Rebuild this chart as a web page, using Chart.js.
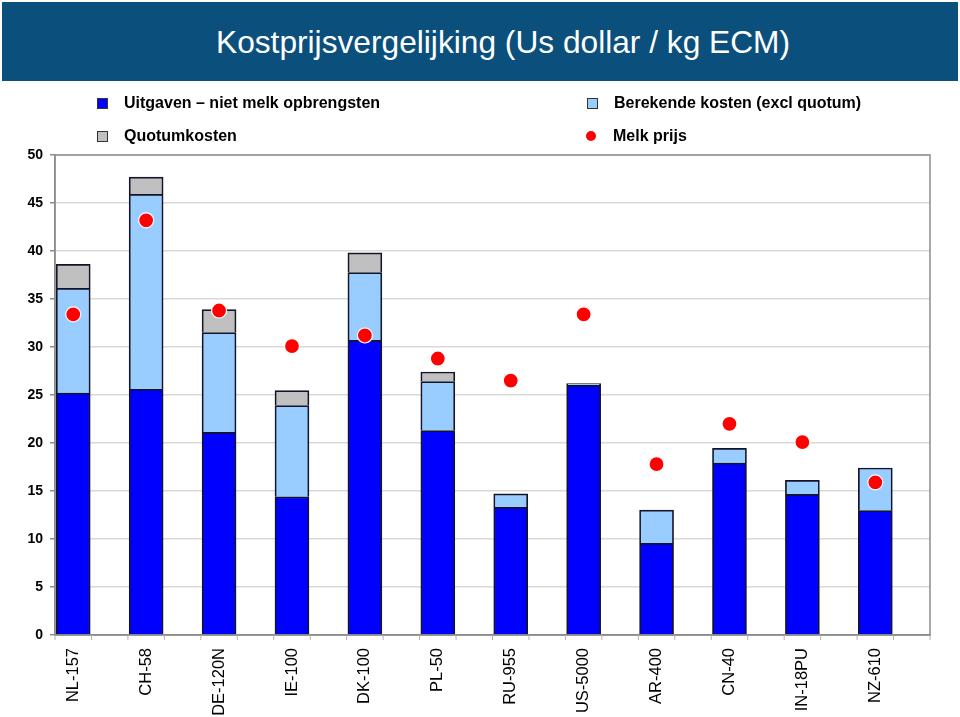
<!DOCTYPE html>
<html>
<head>
<meta charset="utf-8">
<script src="https://cdn.jsdelivr.net/npm/chart.js@4/dist/chart.umd.min.js"></script>
<style>
  body { margin: 0; background: #fff; font-family: "Liberation Sans", Arial, sans-serif; }
  #wrap { position: relative; width: 960px; height: 717px; overflow: hidden; }
  #banner { position: absolute; left: 2px; top: 2px; width: 956px; height: 79px; background: #0b4f7c; }
  #title { position: absolute; left: 216px; top: 3px; height: 79px; line-height: 79px; color: #fff; font-size: 31.7px; white-space: nowrap; }
  #chart { position: absolute; left: 0; top: 0; }
  .leg { position: absolute; font-size: 16px; font-weight: bold; color: #000; white-space: nowrap; line-height: 20px; }
  .sw { position: absolute; width: 9px; height: 9px; border: 1px solid #333; }
  .dot { position: absolute; width: 10px; height: 10px; border-radius: 50%; }
</style>
</head>
<body>
<div id="wrap">
  <div id="banner"></div>
  <div id="title">Kostprijsvergelijking (Us dollar / kg ECM)</div>
  <canvas id="chart" width="960" height="717"></canvas>
  <div id="legend"></div>
</div>
<script>
// categories (farms)
const categories = ['NL-157', 'CH-58', 'DE-120N', 'IE-100', 'DK-100', 'PL-50',
                    'RU-955', 'US-5000', 'AR-400', 'CN-40', 'IN-18PU', 'NZ-610'];

// stacked segments, US dollar / kg ECM
const uitgaven   = [25.2, 25.6, 21.1, 14.4, 30.7, 21.3, 13.3, 26.0, 9.55, 17.9, 14.65, 12.95];
const berekende  = [10.9, 20.3, 10.4, 9.5, 7.05, 5.1, 1.4, 0.2, 3.45, 1.55, 1.45, 4.45];
const quotum     = [2.5, 1.8, 2.4, 1.55, 2.05, 1.0, null, null, null, null, null, null];
const melkprijs  = [33.4, 43.2, 33.8, 30.1, 31.2, 28.8, 26.5, 33.4, 17.8, 22.0, 20.1, 15.9];

const seriesNames = ['Uitgaven \u2013 niet melk opbrengsten', 'Berekende kosten (excl quotum)',
                     'Quotumkosten', 'Melk prijs'];
const yTicks = [0, 5, 10, 15, 20, 25, 30, 35, 40, 45, 50];

const FONT = '"Liberation Sans", Arial, sans-serif';

function pts(arr) {
    return arr.map((v, i) => ({ x: i, y: v }));
}

// legend (two columns, HTML)
const legendEl = document.getElementById('legend');
const legendItems = [
    { name: seriesNames[0], color: '#0000ff', kind: 'box', x: 97, y: 93 },
    { name: seriesNames[1], color: '#99ccff', kind: 'box', x: 587, y: 93 },
    { name: seriesNames[2], color: '#c0c0c0', kind: 'box', x: 97, y: 126 },
    { name: seriesNames[3], color: '#ff0000', kind: 'dot', x: 586, y: 126 }
];
legendItems.forEach(item => {
    const mark = document.createElement('div');
    mark.className = item.kind === 'box' ? 'sw' : 'dot';
    mark.style.left = item.x + 'px';
    mark.style.top = (item.y + 5) + 'px';
    mark.style.background = item.color;
    legendEl.appendChild(mark);
    const txt = document.createElement('div');
    txt.className = 'leg';
    txt.style.left = (item.x + 27) + 'px';
    txt.style.top = item.y + 'px';
    txt.textContent = item.name;
    legendEl.appendChild(txt);
});

// plot frame + small tick marks at the bar edges
const framePlugin = {
    id: 'frame',
    afterDraw(chart) {
        const { ctx, chartArea: a, scales } = chart;
        ctx.save();
        ctx.strokeStyle = '#8c8c8c';
        ctx.lineWidth = 1.5;
        ctx.strokeRect(a.left, a.top, a.right - a.left, a.bottom - a.top);
        ctx.beginPath();
        for (let k = 0; k <= categories.length * 2; k++) {
            const px = scales.x.getPixelForValue(-0.25 + k * 0.5);
            ctx.moveTo(px, a.bottom);
            ctx.lineTo(px, a.bottom + 5);
        }
        ctx.strokeStyle = '#b0b0b0';
        ctx.lineWidth = 1;
        ctx.stroke();
        ctx.restore();
    }
};

const barCommon = {
    stack: 'kosten',
    borderColor: '#141428',
    borderWidth: 1.7,
    borderSkipped: 'start',
    barThickness: 34
};

new Chart(document.getElementById('chart'), {
    type: 'bar',
    data: {
        datasets: [
            { ...barCommon, label: seriesNames[0], data: pts(uitgaven), backgroundColor: '#0000ff', order: 2 },
            { ...barCommon, label: seriesNames[1], data: pts(berekende), backgroundColor: '#99ccff', order: 2 },
            { ...barCommon, label: seriesNames[2], data: pts(quotum), backgroundColor: '#c0c0c0', order: 2 },
            {
                type: 'line', label: seriesNames[3], data: pts(melkprijs), showLine: false, order: 1,
                pointRadius: 7.5, pointHoverRadius: 7.5, pointBackgroundColor: '#ff0000',
                pointBorderColor: '#ffffff', pointBorderWidth: 1.2
            }
        ]
    },
    options: {
        responsive: false,
        devicePixelRatio: 1,
        animation: false,
        layout: { padding: { top: 155, right: 30, left: 0, bottom: 0 } },
        plugins: { legend: { display: false }, tooltip: { enabled: false } },
        scales: {
            x: {
                type: 'linear',
                min: -0.25,
                max: 11.75,
                offset: false,
                grid: { display: false, drawTicks: false, offset: false },
                border: { display: true, color: '#8c8c8c', width: 1.5 },
                afterBuildTicks: scale => { scale.ticks = categories.map((c, i) => ({ value: i })); },
                afterFit: scale => { scale.height = 82; },
                ticks: {
                    autoSkip: false,
                    maxRotation: 90,
                    minRotation: 90,
                    padding: 13,
                    color: '#000',
                    font: { family: FONT, size: 16.5 },
                    callback: v => categories[v]
                }
            },
            y: {
                min: 0,
                max: 50,
                afterBuildTicks: scale => { scale.ticks = yTicks.map(v => ({ value: v })); },
                afterFit: scale => { scale.width = 55; },
                grid: { color: '#d9d9d9', lineWidth: 1.5, tickColor: '#8c8c8c', tickLength: 5 },
                border: { display: true, color: '#8c8c8c', width: 1.5 },
                ticks: {
                    padding: 7,
                    color: '#000',
                    font: { family: FONT, size: 14, weight: 'bold' }
                }
            }
        }
    },
    plugins: [framePlugin]
});
</script>
</body>
</html>
